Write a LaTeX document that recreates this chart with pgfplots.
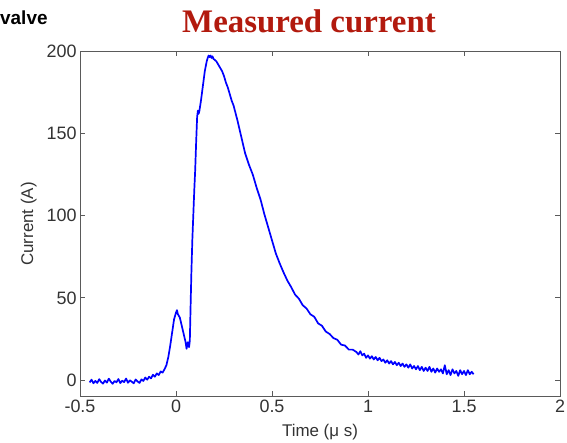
\documentclass[border=0pt]{standalone}
\usepackage{pgfplots}
\pgfplotsset{compat=1.18}
\usepackage{fontspec}
\setmainfont{Liberation Sans}
\newfontfamily\titlefont{Liberation Serif}
\definecolor{titlered}{RGB}{178,26,14}
\definecolor{frame}{RGB}{90,90,90}

\begin{document}
\begin{tikzpicture}[x=1bp,y=1bp]
\path[use as bounding box] (0,0) rectangle (567,443);
\node[anchor=base west, inner sep=0pt, font=\bfseries\fontsize{19}{22}\selectfont] at (0,418) {valve};
\node[anchor=base, inner sep=0pt, text=titlered, font=\titlefont\bfseries\fontsize{33}{36}\selectfont] at (309,410) {Measured current};

\begin{axis}[
    at={(176bp,63bp)}, anchor=origin,
    scale only axis,
    width=480bp, height=345bp,
    xmin=-0.5, xmax=2,
    ymin=-10, ymax=200,
    xtick={-0.5,0,0.5,1,1.5,2},
    ytick={0,50,100,150,200},
    tick align=inside,
    major tick length=5bp,
    axis line style={frame, line width=1bp},
    every tick/.style={frame, line width=0.8bp},
    tick label style={font=\fontsize{18}{21}\selectfont, text=black!80},
    /pgf/number format/assume math mode=true,
    xlabel={Time (μ s)},
    ylabel={Current (A)},
    label style={font=\fontsize{17}{20}\selectfont, text=black!80},
    xlabel style={yshift=-5bp},
    ylabel style={yshift=3bp},
]
\addplot[blue, line width=1.7bp, line join=round] coordinates {
(-0.45,-1.5) (-0.44,0.2) (-0.43,-2.0) (-0.42,-0.5) (-0.41,-1.8) (-0.40,0.5)
(-0.39,-1.2) (-0.38,-2.2) (-0.37,-0.3) (-0.36,-1.6) (-0.35,0.8) (-0.34,-1.0)
(-0.33,-2.3) (-0.32,-0.6) (-0.31,-1.4) (-0.30,0.6) (-0.29,-1.9) (-0.28,-0.4)
(-0.27,-1.3) (-0.26,0.9) (-0.25,-1.7) (-0.24,-0.2) (-0.23,-1.1) (-0.22,-2.0)
(-0.21,0.3) (-0.20,-0.9) (-0.19,-1.8) (-0.18,0.4) (-0.17,-0.6) (-0.16,1.5)
(-0.15,0.2) (-0.14,2.0) (-0.13,1.0) (-0.12,3.2) (-0.11,2.0) (-0.10,4.0)
(-0.09,3.0) (-0.08,5.2) (-0.07,4.5) (-0.06,6.5) (-0.05,9.0) (-0.04,14)
(-0.03,21) (-0.02,29) (-0.01,37) (0.0,41) (0.005,42.5) (0.01,40)
(0.02,38) (0.03,33) (0.04,28) (0.05,23) (0.055,19) (0.062,23)
(0.068,20) (0.072,24) (0.076,45) (0.08,65) (0.085,85) (0.09,100)
(0.095,115) (0.1,128) (0.105,145) (0.11,160) (0.114,164) (0.118,162)
(0.122,164) (0.13,170) (0.14,179) (0.15,188) (0.16,194) (0.165,196)
(0.17,197.5) (0.175,196.5) (0.18,197.5) (0.185,196) (0.19,197) (0.195,195.5)
(0.20,195) (0.21,194) (0.22,192) (0.23,190) (0.24,188) (0.25,185)
(0.26,181) (0.27,178) (0.28,174) (0.29,170) (0.30,167) (0.32,158)
(0.34,148) (0.36,138) (0.38,131) (0.40,125) (0.42,117) (0.44,110)
(0.46,101) (0.48,93) (0.50,85) (0.52,77) (0.54,71) (0.56,65.5)
(0.58,60.5) (0.60,56.5) (0.62,52) (0.64,49.5) (0.66,45.5) (0.68,43.5)
(0.70,40) (0.72,38.5) (0.74,34.5) (0.76,33) (0.78,29.5) (0.80,28)
(0.82,25.5) (0.84,24.5) (0.86,21.5) (0.88,21) (0.90,18.5) (0.92,18.5)
(0.94,17) (0.95,15.5) (0.96,17.5) (0.97,15) (0.98,16) (0.99,13.5)
(1.00,15) (1.01,13) (1.02,14.5) (1.03,12.5) (1.04,14) (1.05,12)
(1.06,13.5) (1.07,11.5) (1.08,12.5) (1.09,10.5) (1.10,12) (1.11,10)
(1.12,11.5) (1.13,9.5) (1.14,11) (1.15,9) (1.16,10.5) (1.17,8.5)
(1.18,10) (1.19,8) (1.20,9.5) (1.21,7.5) (1.22,9.5) (1.23,7)
(1.24,8.5) (1.25,6.5) (1.26,8.5) (1.27,6) (1.28,8) (1.29,5.5)
(1.30,7.5) (1.31,5.5) (1.32,8) (1.33,5) (1.34,7) (1.35,4.5)
(1.36,7) (1.37,5) (1.38,6.5) (1.39,4) (1.40,9) (1.41,3.5)
(1.42,6) (1.43,3) (1.44,6.5) (1.45,4) (1.46,5.5) (1.47,2.5)
(1.48,6) (1.49,3.5) (1.50,5.5) (1.51,3) (1.52,6) (1.53,3.5)
(1.54,5) (1.55,3.5)
};
\end{axis}
\end{tikzpicture}
\end{document}
